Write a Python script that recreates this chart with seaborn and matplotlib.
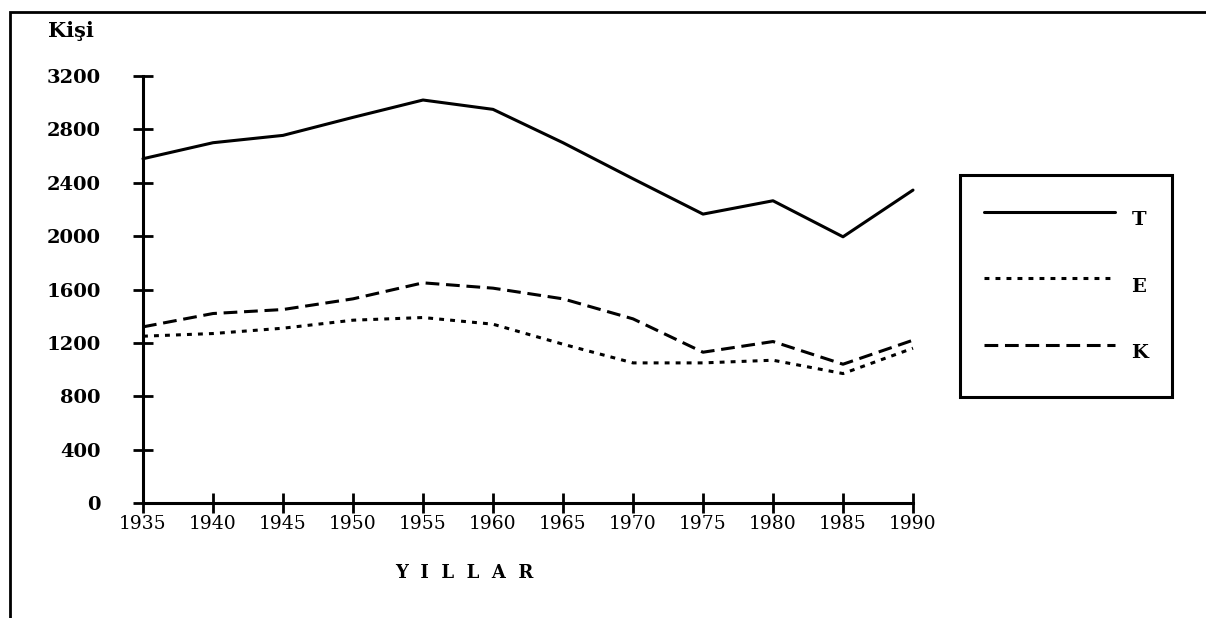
import matplotlib
matplotlib.use('Agg')
import matplotlib.pyplot as plt
import seaborn as sns
import pandas as pd
from matplotlib.patches import Rectangle

# yillara gore nufus (kisi)
years = [1935, 1940, 1945, 1950, 1955, 1960, 1965, 1970, 1975, 1980, 1985, 1990]
toplam = [2580, 2700, 2755, 2890, 3020, 2950, 2700, 2430, 2165, 2265, 1995, 2345]
erkek = [1250, 1270, 1310, 1370, 1390, 1340, 1190, 1050, 1050, 1070, 970, 1160]
kadin = [1320, 1420, 1450, 1530, 1650, 1610, 1530, 1380, 1130, 1210, 1040, 1220]
series_names = ['T', 'E', 'K']
y_ticks = [0, 400, 800, 1200, 1600, 2000, 2400, 2800, 3200]

df = pd.DataFrame({'yil': years * 3,
                   'kisi': toplam + erkek + kadin,
                   'seri': [s for s in series_names for _ in years]})

sns.set_style('white')
plt.rcParams['font.family'] = ['DejaVu Serif', 'Liberation Serif']
plt.rcParams['text.color'] = 'black'
plt.rcParams['xtick.color'] = 'black'
plt.rcParams['ytick.color'] = 'black'

fig = plt.figure(figsize=(12.06, 6.18), dpi=100)
ax = fig.add_axes([143 / 1206, 1 - 503 / 618, 770 / 1206, 427 / 618])

sns.lineplot(data=df, x='yil', y='kisi', style='seri', ax=ax, color='black',
             linewidth=2.2, dashes={'T': '', 'E': (1.6, 2.0), 'K': (4.5, 2.2)},
             legend=True)

ax.set_xlim(1935, 1990)
ax.set_ylim(0, 3200)
ax.set_xticks(years)
ax.set_yticks(y_ticks)
ax.set_xticklabels([str(y) for y in years], fontsize=13.5)
ax.set_yticklabels([str(v) for v in y_ticks], fontsize=14, fontweight='bold')
ax.tick_params(axis='both', direction='inout', length=15, width=2,
               color='black', bottom=True, left=True)
ax.tick_params(axis='y', pad=23)
ax.tick_params(axis='x', pad=1)
for ln in ax.get_lines():
    ln.set_clip_on(False)
sns.despine(ax=ax)
for side in ['left', 'bottom']:
    ax.spines[side].set_linewidth(2.2)
    ax.spines[side].set_color('black')
ax.set_xlabel('')
ax.set_ylabel('')

fig.text(48 / 1206, 1 - 31 / 618, 'Kişi', fontsize=15, fontweight='bold', va='center')
fig.text(464 / 1206, 1 - 573 / 618, 'Y  I  L  L  A  R', fontsize=13, fontweight='bold',
         ha='center', va='center')

leg = ax.legend(loc='center', bbox_to_anchor=(1066 / 1206, 1 - 286 / 618),
                bbox_transform=fig.transFigure, frameon=True, fancybox=False,
                framealpha=1, handlelength=6.75, handleheight=2.95,
                handletextpad=0.85, labelspacing=1.25, borderpad=1.2,
                borderaxespad=0, prop={'weight': 'bold', 'size': 14})
leg.get_frame().set_edgecolor('black')
leg.get_frame().set_linewidth(2.2)
for h in leg.get_lines():
    h.set_linewidth(2.2)
    h.set_color('black')

# cerceve
fig.patches.append(Rectangle((10 / 1206, -0.1), 1.2, 1 - 12 / 618 + 0.1,
                             transform=fig.transFigure, fill=False,
                             edgecolor='black', linewidth=2))

fig.savefig('out.png', dpi=100)
